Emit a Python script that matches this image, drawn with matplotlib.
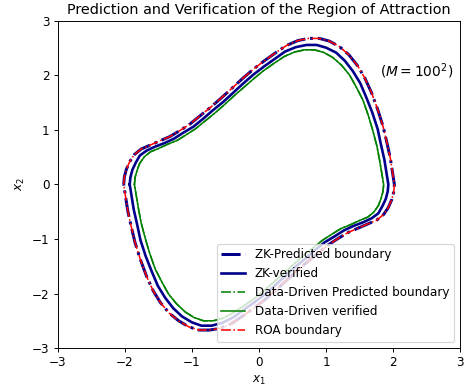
import numpy as np
import matplotlib
matplotlib.use('Agg')
from matplotlib import pyplot as plt

# ROA boundary (clockwise from the left extreme)
roa_x = [-2.02, -2.01, -1.98, -1.93, -1.86, -1.76, -1.63, -1.48, -1.33, -1.18, -1.03, -0.88,
         -0.72, -0.56, -0.40, -0.24, -0.08, 0.08, 0.24, 0.41, 0.58, 0.74, 0.90, 1.05, 1.20,
         1.34, 1.47, 1.58, 1.68, 1.77, 1.85, 1.91, 1.96, 1.99,
         2.02, 2.01, 1.98, 1.93, 1.86, 1.76, 1.63, 1.48, 1.33, 1.18, 1.03, 0.88,
         0.72, 0.56, 0.40, 0.24, 0.08, -0.08, -0.24, -0.41, -0.58, -0.74, -0.90, -1.05, -1.20,
         -1.34, -1.47, -1.58, -1.68, -1.77, -1.85, -1.91, -1.96, -1.99, -2.02]
roa_y = [0.00, 0.14, 0.28, 0.42, 0.55, 0.65, 0.72, 0.80, 0.88, 0.99, 1.11, 1.26,
         1.42, 1.59, 1.77, 1.95, 2.12, 2.27, 2.41, 2.55, 2.64, 2.68, 2.68, 2.63, 2.53,
         2.38, 2.18, 1.95, 1.68, 1.38, 1.07, 0.76, 0.48, 0.24,
         0.00, -0.14, -0.28, -0.42, -0.55, -0.65, -0.72, -0.80, -0.88, -0.99, -1.11, -1.26,
         -1.42, -1.59, -1.77, -1.95, -2.12, -2.27, -2.41, -2.55, -2.64, -2.67, -2.67, -2.61, -2.50,
         -2.36, -2.17, -1.95, -1.68, -1.38, -1.07, -0.76, -0.48, -0.24, 0.00]

# ZK predicted boundary lies on the ROA boundary
zk_pred_x = roa_x
zk_pred_y = roa_y

# ZK verified
zk_ver_x = [-1.93, -1.92, -1.89, -1.84, -1.78, -1.68, -1.56, -1.41, -1.27, -1.13, -0.98, -0.84,
            -0.69, -0.53, -0.38, -0.23, -0.08, 0.08, 0.23, 0.39, 0.55, 0.71, 0.86, 1.00, 1.15,
            1.28, 1.40, 1.51, 1.60, 1.69, 1.77, 1.82, 1.87, 1.90,
            1.93, 1.92, 1.89, 1.84, 1.78, 1.68, 1.56, 1.41, 1.27, 1.13, 0.98, 0.84,
            0.69, 0.53, 0.38, 0.23, 0.08, -0.08, -0.23, -0.39, -0.55, -0.71, -0.86, -1.00, -1.15,
            -1.28, -1.40, -1.51, -1.60, -1.69, -1.77, -1.82, -1.87, -1.90, -1.93]
zk_ver_y = [0.00, 0.13, 0.27, 0.40, 0.53, 0.62, 0.69, 0.76, 0.84, 0.95, 1.06, 1.20,
            1.36, 1.52, 1.69, 1.86, 2.02, 2.17, 2.30, 2.44, 2.52, 2.56, 2.56, 2.51, 2.42,
            2.27, 2.08, 1.86, 1.60, 1.32, 1.02, 0.73, 0.46, 0.23,
            0.00, -0.13, -0.27, -0.40, -0.53, -0.62, -0.69, -0.76, -0.84, -0.95, -1.06, -1.20,
            -1.36, -1.52, -1.69, -1.86, -2.02, -2.17, -2.30, -2.44, -2.54, -2.59, -2.59, -2.53, -2.42,
            -2.27, -2.08, -1.86, -1.60, -1.32, -1.02, -0.73, -0.46, -0.23, 0.00]

# Data-driven verified
dd_ver_x = [-1.86, -1.85, -1.82, -1.78, -1.71, -1.62, -1.50, -1.36, -1.22, -1.09, -0.95, -0.81,
            -0.66, -0.52, -0.37, -0.22, -0.07, 0.07, 0.22, 0.38, 0.53, 0.68, 0.83, 0.97, 1.10,
            1.23, 1.35, 1.45, 1.55, 1.63, 1.70, 1.76, 1.80, 1.83,
            1.86, 1.85, 1.82, 1.78, 1.71, 1.62, 1.50, 1.36, 1.22, 1.09, 0.95, 0.81,
            0.66, 0.52, 0.37, 0.22, 0.07, -0.07, -0.22, -0.38, -0.53, -0.68, -0.83, -0.97, -1.10,
            -1.23, -1.35, -1.45, -1.55, -1.63, -1.70, -1.76, -1.80, -1.83, -1.86]
dd_ver_y = [0.00, 0.13, 0.26, 0.39, 0.51, 0.60, 0.66, 0.74, 0.81, 0.91, 1.02, 1.16,
            1.31, 1.46, 1.63, 1.79, 1.95, 2.09, 2.22, 2.35, 2.43, 2.47, 2.47, 2.42, 2.33,
            2.19, 2.01, 1.79, 1.55, 1.27, 0.98, 0.70, 0.44, 0.22,
            0.00, -0.13, -0.26, -0.39, -0.51, -0.60, -0.66, -0.74, -0.81, -0.91, -1.02, -1.16,
            -1.31, -1.46, -1.63, -1.79, -1.95, -2.09, -2.22, -2.35, -2.45, -2.50, -2.50, -2.44, -2.34,
            -2.19, -2.01, -1.79, -1.55, -1.27, -0.98, -0.70, -0.44, -0.22, 0.00]

# Data-driven predicted lies on the verified curve
dd_pred_x = dd_ver_x
dd_pred_y = dd_ver_y

fig = plt.figure(figsize=(468 / 86, 388 / 86), dpi=86)
ax = fig.add_axes([0.124, 0.103, 0.859, 0.843])

ax.plot(zk_pred_x, zk_pred_y, color='darkblue', linestyle='-.', linewidth=2.5, label='ZK-Predicted boundary')
ax.plot(zk_ver_x, zk_ver_y, color='darkblue', linestyle='-', linewidth=2.2, label='ZK-verified')
ax.plot(dd_pred_x, dd_pred_y, color='green', linestyle='-.', linewidth=1.3, label='Data-Driven Predicted boundary')
ax.plot(dd_ver_x, dd_ver_y, color='green', linestyle='-', linewidth=1.3, label='Data-Driven verified')
ax.plot(roa_x, roa_y, color='red', linestyle='-.', linewidth=1.3, label='ROA boundary')

ax.text(1.8, 2.08, r'$(M=100^2)$', fontsize=11.5, va='center')

ax.set_xlim(-3, 3)
ax.set_ylim(-3, 3)
ax.set_xlabel('$x_1$')
ax.set_ylabel('$x_2$')
ax.set_title('Prediction and Verification of the Region of Attraction', fontsize=12)
ax.legend(loc='lower right')

fig.savefig('out.png', dpi=86)
